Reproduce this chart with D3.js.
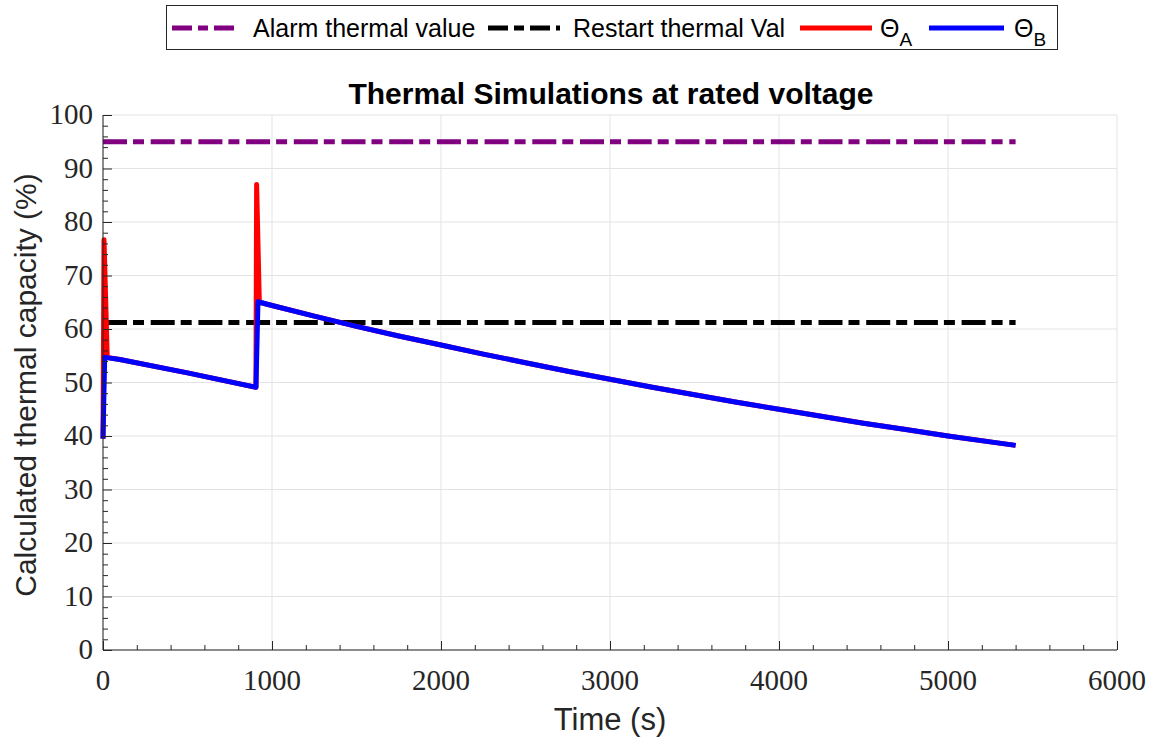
<!DOCTYPE html>
<html>
<head>
<meta charset="utf-8">
<script src="https://cdn.jsdelivr.net/npm/d3@7"></script>
<style>
  body { margin: 0; background: #fff; }
  svg { display: block; }
</style>
</head>
<body>
<svg id="chart" width="1154" height="740"></svg>
<script>
// Thermal capacity (%) versus time (s)
const alarmLevel = 95;
const restartLevel = 61.2;
const thresholdSpan = [0, 5400];

const thetaATime  = [0, 6, 25, 100, 500, 905, 909, 925, 1000, 1250, 1500, 1750, 2000, 2250, 2500, 2750, 3000, 3250, 3500, 3750, 4000, 4250, 4500, 4750, 5000, 5250, 5400];
const thetaAValue = [39.5, 76.7, 54.7, 54.3, 51.8, 49.1, 87.0, 65.0, 64.4, 62.4, 60.5, 58.7, 57.0, 55.3, 53.7, 52.1, 50.6, 49.1, 47.7, 46.3, 45.0, 43.7, 42.4, 41.2, 40.0, 38.9, 38.25];

const thetaBTime  = [0, 10, 100, 500, 905, 917, 1000, 1250, 1500, 1750, 2000, 2250, 2500, 2750, 3000, 3250, 3500, 3750, 4000, 4250, 4500, 4750, 5000, 5250, 5400];
const thetaBValue = [39.5, 54.7, 54.3, 51.8, 49.1, 65.1, 64.4, 62.4, 60.5, 58.7, 57.0, 55.3, 53.7, 52.1, 50.6, 49.1, 47.7, 46.3, 45.0, 43.7, 42.4, 41.2, 40.0, 38.9, 38.25];

const xTicks = [0, 1000, 2000, 3000, 4000, 5000, 6000];
const yTicks = [0, 10, 20, 30, 40, 50, 60, 70, 80, 90, 100];

const svg = d3.select("#chart");
const plotLeft = 103, plotRight = 1117, plotTop = 115, plotBottom = 650;

const x = d3.scaleLinear().domain([0, 6000]).range([plotLeft, plotRight]);
const y = d3.scaleLinear().domain([0, 100]).range([plotBottom, plotTop]);

const axisColor = "#262626";
const gridColor = "#e3e3e3";

// grid
const grid = svg.append("g");
grid.selectAll(".gx").data(xTicks).join("line")
  .attr("x1", d => x(d)).attr("x2", d => x(d))
  .attr("y1", plotTop).attr("y2", plotBottom)
  .attr("stroke", gridColor).attr("stroke-width", 1);
grid.selectAll(".gy").data(yTicks).join("line")
  .attr("y1", d => y(d)).attr("y2", d => y(d))
  .attr("x1", plotLeft).attr("x2", plotRight)
  .attr("stroke", gridColor).attr("stroke-width", 1);

// series
const dashDot = "24,6,11,6.7";
const line = d3.line().x(d => x(d[0])).y(d => y(d[1]));

function drawLevel(level, color) {
  svg.append("path")
    .datum(thresholdSpan.map(t => [t, level]))
    .attr("d", line)
    .attr("fill", "none").attr("stroke", color)
    .attr("stroke-width", 5).attr("stroke-dasharray", dashDot);
}
drawLevel(alarmLevel, "#800080");
drawLevel(restartLevel, "#000000");

svg.append("path")
  .datum(d3.zip(thetaATime, thetaAValue))
  .attr("d", line)
  .attr("fill", "none").attr("stroke", "#ff0000")
  .attr("stroke-width", 5).attr("stroke-linejoin", "round");

svg.append("path")
  .datum(d3.zip(thetaBTime, thetaBValue))
  .attr("d", line)
  .attr("fill", "none").attr("stroke", "#0000ff")
  .attr("stroke-width", 5).attr("stroke-linejoin", "round");

// axes
const tickFont = 29;
const xAxis = svg.append("g").attr("transform", `translate(0,${plotBottom})`);
xAxis.call(d3.axisBottom(x).tickValues(d3.range(0, 6001, 200)).tickSize(-5).tickFormat(""));
xAxis.call(g => g.selectAll(".tick line").filter(d => d % 1000 === 0).attr("y2", -9));
xAxis.select(".domain").attr("stroke", axisColor).attr("d", `M${plotLeft},0H${plotRight}`);
xAxis.selectAll(".tick line").attr("stroke", axisColor);
xAxis.selectAll(".lbl").data(xTicks).join("text")
  .attr("x", d => x(d)).attr("y", 40)
  .attr("text-anchor", "middle")
  .attr("font-family", "Liberation Serif, serif").attr("font-size", tickFont)
  .attr("fill", axisColor)
  .text(d => d);

const yAxis = svg.append("g").attr("transform", `translate(${plotLeft},0)`);
yAxis.call(d3.axisLeft(y).tickValues(d3.range(0, 101, 2)).tickSize(-5).tickFormat(""));
yAxis.call(g => g.selectAll(".tick line").filter(d => d % 10 === 0).attr("x2", 9));
yAxis.select(".domain").attr("stroke", axisColor).attr("d", `M0,${plotTop}V${plotBottom}`);
yAxis.selectAll(".tick line").attr("stroke", axisColor);
yAxis.selectAll(".lbl").data(yTicks).join("text")
  .attr("x", -10).attr("y", d => y(d) + 9)
  .attr("text-anchor", "end")
  .attr("font-family", "Liberation Serif, serif").attr("font-size", tickFont)
  .attr("fill", axisColor)
  .text(d => d);

// titles
svg.append("text")
  .attr("x", 611).attr("y", 104)
  .attr("text-anchor", "middle")
  .attr("font-family", "Liberation Sans, Arial, sans-serif")
  .attr("font-weight", "bold").attr("font-size", 30)
  .text("Thermal Simulations at rated voltage");

svg.append("text")
  .attr("x", 610).attr("y", 730)
  .attr("text-anchor", "middle")
  .attr("font-family", "Liberation Sans, Arial, sans-serif")
  .attr("font-size", 31).attr("fill", axisColor)
  .text("Time (s)");

svg.append("text")
  .attr("transform", "translate(36,385) rotate(-90)")
  .attr("text-anchor", "middle")
  .attr("font-family", "Liberation Sans, Arial, sans-serif")
  .attr("font-size", 30).attr("fill", axisColor)
  .text("Calculated thermal capacity (%)");

// legend
const legend = svg.append("g");
legend.append("rect")
  .attr("x", 166.5).attr("y", 5.5).attr("width", 891).attr("height", 44)
  .attr("fill", "#fff").attr("stroke", "#262626").attr("stroke-width", 1);

const legendItems = [
  { x0: 172, x1: 240, tx: 253, color: "#800080", dash: "20,6,10,6", label: "Alarm thermal value" },
  { x0: 488, x1: 560, tx: 573, color: "#000000", dash: "20,6,10,6", label: "Restart thermal Val" },
  { x0: 800, x1: 872, tx: 880, color: "#ff0000", dash: null, label: "Θ", sub: "A" },
  { x0: 929, x1: 1004, tx: 1014, color: "#0000ff", dash: null, label: "Θ", sub: "B" }
];
legendItems.forEach(it => {
  legend.append("line")
    .attr("x1", it.x0).attr("x2", it.x1).attr("y1", 28).attr("y2", 28)
    .attr("stroke", it.color).attr("stroke-width", 5)
    .attr("stroke-dasharray", it.dash);
  const t = legend.append("text")
    .attr("x", it.tx).attr("y", 37)
    .attr("font-family", "Liberation Sans, Arial, sans-serif")
    .attr("font-size", 25).attr("fill", "#000")
    .text(it.label);
  if (it.sub) {
    t.append("tspan").attr("dy", 9).attr("font-size", 19).text(it.sub);
  }
});
</script>
</body>
</html>
